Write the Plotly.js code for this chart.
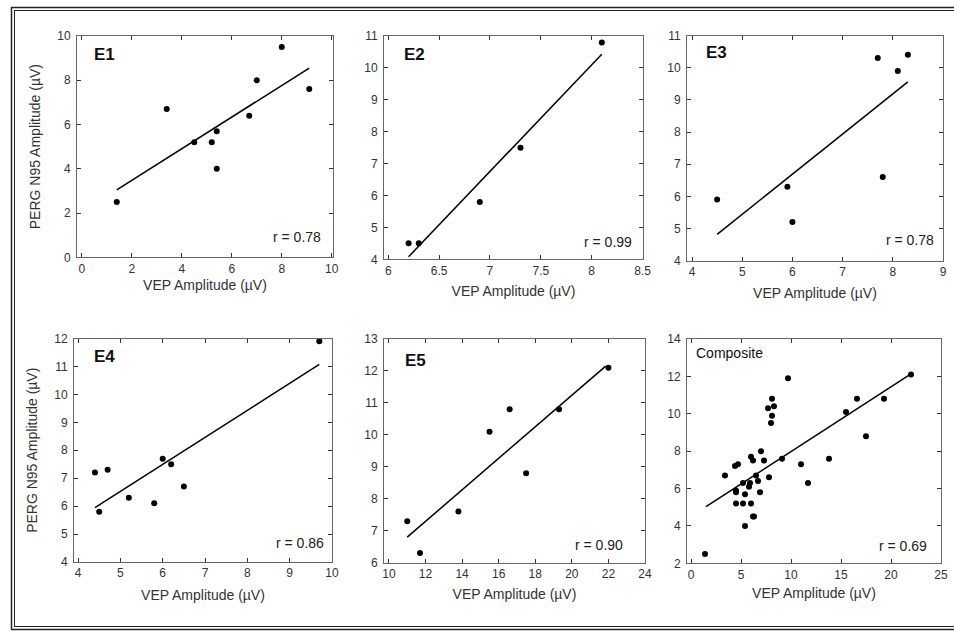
<!DOCTYPE html>
<html>
<head>
<meta charset="utf-8">
<script src="https://cdn.plot.ly/plotly-3.0.1.min.js"></script>
<style>
html,body{margin:0;padding:0;background:#fff;}
#chart{width:954px;height:631px;}
</style>
</head>
<body>
<div id="chart"></div>
<script>
// ---------- data ----------
var panelNames = ["E1", "E2", "E3", "E4", "E5", "Composite"];
var rLabels = ["r = 0.78", "r = 0.99", "r = 0.78", "r = 0.86", "r = 0.90", "r = 0.69"];

var e1X = [1.4, 3.4, 4.5, 5.2, 5.4, 5.4, 6.7, 7.0, 8.0, 9.1];
var e1Y = [2.5, 6.7, 5.2, 5.2, 5.7, 4.0, 6.4, 8.0, 9.5, 7.6];
var e1FitX = [1.4, 9.1];
var e1FitY = [3.05, 8.55];

var e2X = [6.2, 6.3, 6.9, 7.3, 8.1];
var e2Y = [4.5, 4.5, 5.8, 7.5, 10.8];
var e2FitX = [6.2, 8.1];
var e2FitY = [4.08, 10.43];

var e3X = [4.5, 5.9, 6.0, 7.7, 7.8, 8.1, 8.3];
var e3Y = [5.9, 6.3, 5.2, 10.3, 6.6, 9.9, 10.4];
var e3FitX = [4.5, 8.3];
var e3FitY = [4.82, 9.56];

var e4X = [4.4, 4.5, 4.7, 5.2, 5.8, 6.0, 6.2, 6.5, 9.7];
var e4Y = [7.2, 5.8, 7.3, 6.3, 6.1, 7.7, 7.5, 6.7, 11.9];
var e4FitX = [4.4, 9.7];
var e4FitY = [5.95, 11.07];

var e5X = [11.0, 11.7, 13.8, 15.5, 16.6, 17.5, 19.3, 22.0];
var e5Y = [7.3, 6.3, 7.6, 10.1, 10.8, 8.8, 10.8, 12.1];
var e5FitX = [11.0, 21.85];
var e5FitY = [6.8, 12.15];

// composite = all subjects pooled
var compX = [].concat(e1X, e2X, e3X, e4X, e5X);
var compY = [].concat(e1Y, e2Y, e3Y, e4Y, e5Y);
var compFitX = [1.5, 22.0];
var compFitY = [5.03, 12.13];

// tick values
var xTicks = [
  [0, 2, 4, 6, 8, 10],
  [6, 6.5, 7, 7.5, 8, 8.5],
  [4, 5, 6, 7, 8, 9],
  [4, 5, 6, 7, 8, 9, 10],
  [10, 12, 14, 16, 18, 20, 22, 24],
  [0, 5, 10, 15, 20, 25]
];
var yTicks = [
  [0, 2, 4, 6, 8, 10],
  [4, 5, 6, 7, 8, 9, 10, 11],
  [4, 5, 6, 7, 8, 9, 10, 11],
  [4, 5, 6, 7, 8, 9, 10, 11, 12],
  [6, 7, 8, 9, 10, 11, 12, 13],
  [2, 4, 6, 8, 10, 12, 14]
];
var xTitle = "VEP Amplitude (µV)";
var yTitle = "PERG N95 Amplitude (µV)";

// ---------- layout geometry (pixels) ----------
var W = 954, H = 631;
var boxes = [ // [left, right, top, bottom]
  [77, 333, 36, 257.3],
  [384, 643, 36, 259.3],
  [687, 943, 35.5, 260.7],
  [74, 332, 338.5, 562],
  [384, 645, 339, 562.7],
  [687, 941, 339, 563.3]
];
var xRanges = [[-0.19, 10.05], [5.958, 8.505], [3.90, 9.0], [3.905, 10.0], [9.73, 24.0], [-0.4, 25.0]];
var yRanges = [[0, 10], [4, 11], [4, 11], [4, 12], [6, 13], [2, 14]];
var nameFont = [17, 17, 17, 17, 17, 14];
var namePos = [[92, 54], [401.5, 54], [704, 52.5], [91.5, 356.5], [403, 360], [694, 353]];
var rPos = [[323, 237.5], [633.5, 241.5], [936, 240], [325.5, 542.5], [625, 545], [929, 545.5]];
var xTitleGap = [25, 29, 29.5, 30, 29, 27];

var sets = [
  [e1X, e1Y, e1FitX, e1FitY],
  [e2X, e2Y, e2FitX, e2FitY],
  [e3X, e3Y, e3FitX, e3FitY],
  [e4X, e4Y, e4FitX, e4FitY],
  [e5X, e5Y, e5FitX, e5FitY],
  [compX, compY, compFitX, compFitY]
];

var fontFam = "Liberation Sans, Arial, Helvetica, sans-serif";
var traces = [];
var layout = {
  width: W, height: H,
  margin: {l: 0, r: 0, t: 0, b: 0},
  paper_bgcolor: "#ffffff",
  plot_bgcolor: "#ffffff",
  showlegend: false,
  font: {family: fontFam, color: "#222"},
  annotations: [],
  shapes: []
};

function px2x(p) { return p / W; }
function px2y(p) { return 1 - p / H; }

for (var i = 0; i < 6; i++) {
  var n = i + 1;
  var xa = n === 1 ? "x" : "x" + n;
  var ya = n === 1 ? "y" : "y" + n;
  var s = sets[i];
  traces.push({
    x: s[0], y: s[1], xaxis: xa, yaxis: ya,
    type: "scatter", mode: "markers",
    marker: {color: "#000", size: 6},
    hoverinfo: "x+y"
  });
  traces.push({
    x: s[2], y: s[3], xaxis: xa, yaxis: ya,
    type: "scatter", mode: "lines",
    line: {color: "#000", width: 1.5},
    hoverinfo: "skip"
  });
  var b = boxes[i];
  var common = {
    showline: true, mirror: "ticks", linecolor: "#666", linewidth: 1,
    ticks: "inside", ticklen: 4, tickwidth: 1, tickcolor: "#333",
    showgrid: false, zeroline: false, automargin: false,
    tickfont: {family: fontFam, size: 12, color: "#333"}
  };
  var xAx = Object.assign({}, common, {
    domain: [px2x(b[0]), px2x(b[1])],
    range: xRanges[i],
    anchor: ya,
    tickmode: "array", tickvals: xTicks[i],
    title: {text: xTitle, font: {family: fontFam, size: 14, color: "#333"}, standoff: xTitleGap[i] - 20}
  });
  var yAx = Object.assign({}, common, {
    domain: [px2y(b[3]), px2y(b[2])],
    range: yRanges[i],
    anchor: xa,
    tickmode: "array", tickvals: yTicks[i],
    ticklabelstandoff: 3
  });
  if (i === 0 || i === 3) {
    yAx.title = {text: yTitle, font: {family: fontFam, size: 14, color: "#333"}, standoff: 13};
  }
  layout["xaxis" + (n === 1 ? "" : n)] = xAx;
  layout["yaxis" + (n === 1 ? "" : n)] = yAx;

  layout.annotations.push({
    xref: "paper", yref: "paper",
    x: px2x(namePos[i][0]), y: px2y(namePos[i][1]),
    xanchor: "left", yanchor: "middle", showarrow: false,
    text: i < 5 ? "<b>" + panelNames[i] + "</b>" : panelNames[i],
    font: {family: fontFam, size: nameFont[i], color: "#111"}
  });
  layout.annotations.push({
    xref: "paper", yref: "paper",
    x: px2x(rPos[i][0]), y: px2y(rPos[i][1]),
    xanchor: "right", yanchor: "middle", showarrow: false,
    text: rLabels[i],
    font: {family: fontFam, size: 14, color: "#222"}
  });
}

// outer double frame
function hline(y, x0, x1, w) {
  layout.shapes.push({type: "line", xref: "paper", yref: "paper",
    x0: px2x(x0), x1: px2x(x1), y0: px2y(y), y1: px2y(y),
    line: {color: "#222", width: w}});
}
function vline(x, y0, y1, w) {
  layout.shapes.push({type: "line", xref: "paper", yref: "paper",
    x0: px2x(x), x1: px2x(x), y0: px2y(y0), y1: px2y(y1),
    line: {color: "#222", width: w}});
}
hline(7.5, 11, 954, 1.5);
hline(10.5, 14, 954, 1);
vline(11.5, 7, 630, 1.5);
vline(14.5, 10, 627, 1);
hline(626.5, 14, 954, 1);
hline(629.5, 11, 954, 1.5);

Plotly.newPlot("chart", traces, layout, {displayModeBar: false, staticPlot: true});
</script>
</body>
</html>
